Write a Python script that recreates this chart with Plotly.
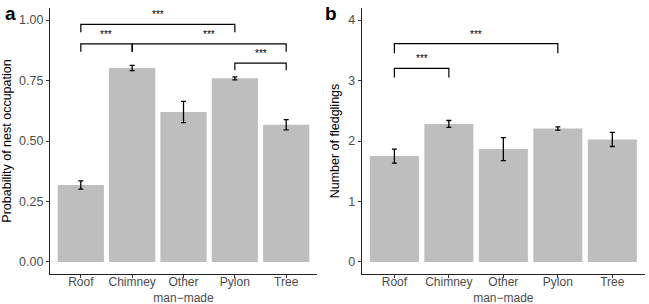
import plotly.graph_objects as go

categories = ["Roof", "Chimney", "Other man-made", "Pylon", "Tree"]
tick_labels = ["Roof", "Chimney", "Other<br>man\u2212made", "Pylon", "Tree"]

occ_mean = [0.318, 0.802, 0.620, 0.759, 0.567]
occ_err = [0.017, 0.011, 0.044, 0.006, 0.021]

fled_mean = [1.75, 2.283, 1.866, 2.207, 2.026]
fled_err = [0.115, 0.056, 0.19, 0.027, 0.117]

# significance brackets: (from, to, height, tip bottom, label)
sig_a = [
    ("Roof", "Pylon", 0.982, 0.950, "***"),
    ("Roof", "Chimney", 0.902, 0.869, "***"),
    ("Chimney", "Tree", 0.902, 0.869, "***"),
    ("Pylon", "Tree", 0.822, 0.793, "***"),
]
sig_b = [
    ("Roof", "Pylon", 3.61, 3.45, "***"),
    ("Roof", "Chimney", 3.20, 3.05, "***"),
]

FONT = "Liberation Sans, Arial, sans-serif"
W, H = 649, 304
BAR = "#bebebe"
AX = "#222222"
TICKC = "#4d4d4d"

fig = go.Figure()

def add_panel(means, errs, sigs, xa, ya):
    fig.add_trace(go.Bar(
        x=categories, y=means, marker=dict(color=BAR, line=dict(width=0)),
        width=0.9,
        error_y=dict(type="data", array=errs, color="black", thickness=1.3, width=2.5),
        xaxis=xa, yaxis=ya, showlegend=False, hoverinfo="skip",
    ))
    idx = {c: i for i, c in enumerate(categories)}
    for a, b, h, tip, lab in sigs:
        xs = [categories[idx[a]], categories[idx[a]], categories[idx[b]], categories[idx[b]]]
        fig.add_trace(go.Scatter(
            x=xs, y=[tip, h, h, tip], mode="lines",
            line=dict(color="black", width=1.2),
            xaxis=xa, yaxis=ya, showlegend=False, hoverinfo="skip",
        ))
        fig.add_annotation(
            x=(idx[a] + idx[b]) / 2, y=h, xref=xa, yref=ya,
            text=lab, showarrow=False, yanchor="bottom", yshift=2,
            font=dict(size=10, color="black", family=FONT),
        )

add_panel(occ_mean, occ_err, sig_a, "x", "y")
add_panel(fled_mean, fled_err, sig_b, "x2", "y2")

ydom = [1 - 274 / H, 1 - 8 / H]
common_x = dict(
    type="category", range=[-0.6, 4.6], showline=True, linecolor=AX, linewidth=1.1,
    ticks="outside", ticklen=3, tickcolor="#333333", tickwidth=1, tickangle=0,
    tickvals=categories, ticktext=tick_labels, automargin=False, ticklabelstandoff=-6,
    tickfont=dict(size=12, color=TICKC, family=FONT),
    showgrid=False, zeroline=False, fixedrange=True,
)
common_y = dict(
    showline=True, linecolor=AX, linewidth=1.1, ticks="outside", ticklen=3,
    tickcolor="#333333", tickwidth=1, automargin=False,
    tickfont=dict(size=12.5, color=TICKC, family=FONT),
    showgrid=False, zeroline=False, domain=ydom,
    title=dict(font=dict(size=12.5, color="black", family=FONT), standoff=5),
)

fig.update_layout(
    width=W, height=H, margin=dict(l=0, r=0, t=0, b=0),
    paper_bgcolor="white", plot_bgcolor="white",
    font=dict(family=FONT),
    bargap=0.1,
    xaxis=dict(**common_x, domain=[50 / W, 317 / W], anchor="y"),
    xaxis2=dict(**common_x, domain=[361.7 / W, 645 / W], anchor="y2"),
    yaxis=dict(**common_y, anchor="x", range=[-0.05, 1.05],
               tickvals=[0, 0.25, 0.5, 0.75, 1.0], ticktext=["0.00", "0.25", "0.50", "0.75", "1.00"]),
    yaxis2=dict(**common_y, anchor="x2", range=[-0.2, 4.2], tickvals=[0, 1, 2, 3, 4]),
)
fig.layout.yaxis.title.text = "Probability of nest occupation"
fig.layout.yaxis2.title.text = "Number of fledglings"

fig.add_annotation(x=3 / W, y=1 - 1 / H, xref="paper", yref="paper", text="<b>a</b>",
                   showarrow=False, xanchor="left", yanchor="top",
                   font=dict(size=19, color="black", family=FONT))
fig.add_annotation(x=323 / W, y=1 - 1 / H, xref="paper", yref="paper", text="<b>b</b>",
                   showarrow=False, xanchor="left", yanchor="top",
                   font=dict(size=19, color="black", family=FONT))

fig.write_html("out.html", config={"displayModeBar": False},
               post_script="document.body.style.margin='0';document.body.style.overflow='hidden';")
